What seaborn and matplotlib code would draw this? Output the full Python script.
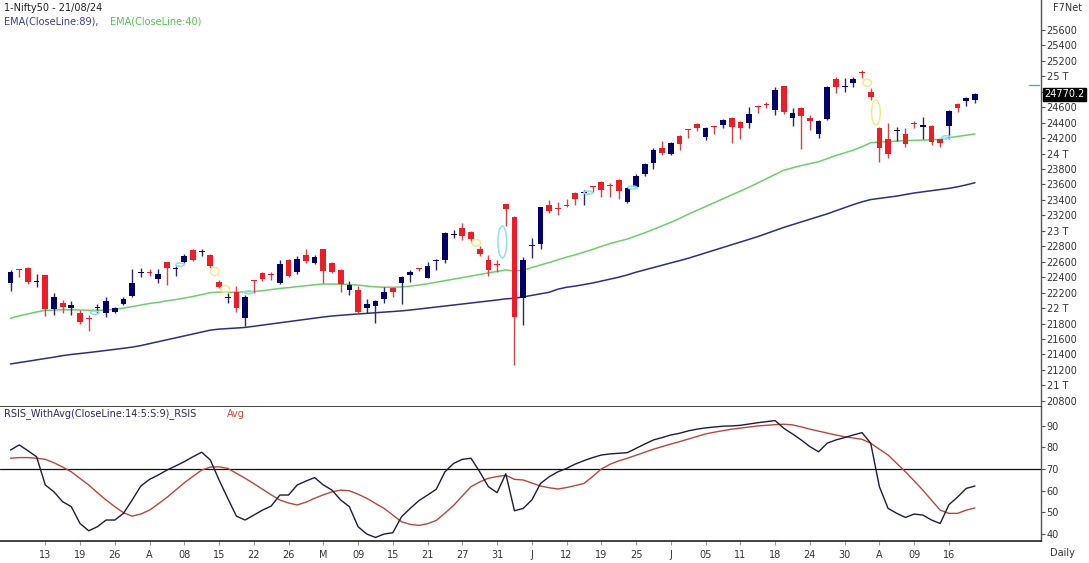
import numpy as np
import pandas as pd
import matplotlib
matplotlib.use("Agg")
import matplotlib.pyplot as plt
from matplotlib.patches import Ellipse
import seaborn as sns

# ---------------- data ----------------
opens = [22329, 22508, 22523, 22340, 22429, 21985, 22062, 21998, 21941, 21868,
         22000, 21941, 21954, 22053, 22157, 22450, 22462, 22377, 22597, 22500,
         22597, 22753, 22725, 22688, 22334, 22128, 22212, 21868, 22355, 22450,
         22432, 22321, 22617, 22471, 22688, 22580, 22762, 22580, 22490, 22234,
         22234, 21998, 22031, 22118, 22256, 22329, 22429, 22510, 22394, 22610,
         22623, 22945, 23033, 22982, 22762, 22623, 22565, 23344, 23183, 22127,
         22800, 22830, 23335, 23290, 23330, 23484, 23490, 23580, 23637, 23590,
         23659, 23378, 23572, 23733, 23883, 24078, 24000, 24229, 24315, 24383,
         24216, 24350, 24370, 24466, 24410, 24400, 24610, 24640, 24565, 24875,
         24465, 24587, 24457, 24248, 24453, 24962, 24860, 24910, 25050, 24801,
         24328, 24186, 24290, 24252, 24395, 24350, 24358, 24186, 24358, 24642,
         24681, 24694]
highs = [22493, 22512, 22530, 22442, 22435, 22196, 22105, 22096, 21976, 21911,
         22053, 22148, 22015, 22148, 22502, 22520, 22506, 22502, 22600, 22546,
         22705, 22762, 22762, 22700, 22364, 22192, 22286, 22170, 22364, 22468,
         22468, 22623, 22632, 22669, 22766, 22688, 22765, 22597, 22510, 22351,
         22286, 22114, 22105, 22269, 22278, 22416, 22493, 22520, 22597, 22640,
         22987, 23010, 23097, 22998, 22805, 22688, 22618, 23350, 23190, 22666,
         22904, 23313, 23400, 23378, 23409, 23506, 23529, 23585, 23645, 23615,
         23665, 23572, 23733, 23883, 24070, 24164, 24155, 24242, 24320, 24400,
         24349, 24355, 24444, 24479, 24423, 24600, 24629, 24672, 24858, 24880,
         24587, 24600, 24500, 24433, 24872, 24996, 24975, 24988, 25082, 24845,
         24349, 24392, 24349, 24328, 24422, 24478, 24366, 24194, 24565, 24659,
         24737, 24781]
lows = [22222, 22407, 22312, 22277, 21898, 21911, 21937, 21911, 21790, 21708,
        21933, 21881, 21943, 22040, 22148, 22403, 22410, 22321, 22304, 22420,
        22584, 22610, 22676, 22515, 22256, 22070, 21954, 21773, 22192, 22350,
        22364, 22308, 22402, 22442, 22584, 22567, 22329, 22448, 22212, 22176,
        21933, 21941, 21803, 22070, 22140, 22049, 22342, 22475, 22386, 22494,
        22584, 22902, 22882, 22839, 22676, 22416, 22463, 23063, 21263, 21781,
        22645, 22770, 23227, 23206, 23305, 23335, 23335, 23507, 23435, 23443,
        23409, 23356, 23559, 23711, 23798, 23979, 23983, 24044, 24207, 24290,
        24173, 24252, 24327, 24142, 24186, 24327, 24530, 24586, 24500, 24513,
        24361, 24057, 24306, 24207, 24431, 24781, 24801, 24866, 24975, 24694,
        23895, 23948, 24164, 24080, 24327, 24186, 24111, 24085, 24186, 24535,
        24616, 24659]
closes = [22471, 22493, 22334, 22345, 21988, 22140, 22018, 22044, 21824, 21855,
          22010, 22096, 21998, 22118, 22321, 22460, 22450, 22442, 22520, 22508,
          22670, 22620, 22735, 22542, 22277, 22140, 21998, 22148, 22345, 22373,
          22424, 22567, 22420, 22636, 22615, 22658, 22484, 22463, 22316, 22299,
          21954, 22053, 22096, 22212, 22212, 22399, 22464, 22500, 22546, 22620,
          22966, 22955, 22937, 22895, 22705, 22494, 22555, 23279, 21889, 22623,
          22821, 23305, 23261, 23280, 23320, 23417, 23500, 23570, 23530, 23580,
          23521, 23551, 23711, 23863, 24044, 24013, 24142, 24129, 24305, 24327,
          24336, 24340, 24435, 24349, 24327, 24513, 24600, 24630, 24823, 24535,
          24530, 24491, 24426, 24420, 24864, 24866, 24870, 24962, 25040, 24729,
          24069, 23992, 24297, 24123, 24385, 24371, 24152, 24143, 24557, 24587,
          24716, 24770.2]
ema89 = [21277, 21295, 21312, 21330, 21348, 21365, 21385, 21400, 21412, 21425,
         21438, 21452, 21466, 21480, 21495, 21515, 21540, 21565, 21590, 21615,
         21640, 21665, 21690, 21715, 21728, 21735, 21742, 21750, 21765, 21780,
         21795, 21810, 21825, 21840, 21855, 21870, 21885, 21898, 21907, 21916,
         21924, 21932, 21940, 21948, 21956, 21964, 21975, 21988, 22001, 22014,
         22027, 22040, 22053, 22066, 22079, 22092, 22105, 22120, 22127, 22145,
         22165, 22185, 22205, 22245, 22270, 22285, 22305, 22325, 22350, 22375,
         22400, 22430, 22465, 22495, 22525, 22555, 22585, 22614, 22645, 22680,
         22715, 22750, 22785, 22820, 22855, 22890, 22925, 22965, 23005, 23045,
         23080, 23115, 23150, 23185, 23220, 23260, 23300, 23340, 23375, 23405,
         23420, 23435, 23450, 23470, 23490, 23505, 23520, 23535, 23550, 23570,
         23595, 23623]
ema40 = [21868, 21900, 21925, 21950, 21970, 21975, 21978, 21978, 21975, 21972,
         21972, 21975, 21985, 22000, 22020, 22040, 22060, 22075, 22095, 22110,
         22130, 22150, 22175, 22200, 22208, 22205, 22205, 22210, 22215, 22225,
         22240, 22255, 22265, 22278, 22290, 22302, 22312, 22312, 22310, 22305,
         22298, 22285, 22275, 22270, 22270, 22275, 22285, 22298, 22315, 22335,
         22355, 22375, 22395, 22415, 22435, 22455, 22475, 22494, 22480, 22490,
         22525, 22558, 22590, 22625, 22660, 22690, 22725, 22760, 22800, 22835,
         22865, 22895, 22935, 22975, 23020, 23065, 23110, 23160, 23215, 23265,
         23315, 23365, 23415, 23465, 23515, 23565, 23620, 23675, 23730, 23785,
         23815, 23845, 23870, 23895, 23935, 23975, 24010, 24045, 24090, 24140,
         24150, 24155, 24162, 24168, 24172, 24175, 24177, 24185, 24205, 24222,
         24238, 24254]
rsi = [78.8, 81.2, 78.5, 75.7, 62.6, 59.4, 54.8, 52.5, 44.7, 41.3,
       43.2, 46.3, 46.3, 49.4, 55.6, 62.1, 65.2, 67.2, 69.5, 71.4,
       73.4, 75.7, 77.8, 74.2, 64.9, 56.4, 48.1, 46.3, 48.6, 50.9,
       52.8, 57.9, 57.9, 62.6, 64.4, 66.0, 62.6, 60.2, 55.6, 52.5,
       43.2, 39.8, 38.2, 39.8, 40.4, 47.8, 51.7, 55.3, 57.9, 60.6,
       68.7, 72.6, 74.5, 75.0, 68.7, 61.8, 59.0, 67.8, 50.6, 51.7,
       55.6, 63.3, 66.4, 68.7, 70.3, 72.3, 73.9, 75.3, 76.5, 77.0,
       77.3, 77.6, 79.6, 81.6, 83.5, 84.6, 85.8, 86.6, 87.7, 88.5,
       89.1, 89.5, 89.9, 90.0, 90.3, 90.9, 91.5, 92.0, 92.5, 88.9,
       86.3, 83.5, 80.4, 78.0, 82.0, 83.5, 84.6, 85.8, 86.9, 82.0,
       61.8, 51.7, 49.4, 47.5, 49.1, 48.6, 46.3, 44.7, 53.4, 57.0,
       61.0, 62.1]
rsi_avg = [75.0, 75.3, 75.3, 75.0, 74.5, 72.9, 70.9, 68.7, 65.6, 62.6,
           59.0, 55.6, 52.5, 49.7, 48.1, 49.1, 50.9, 53.8, 56.8, 60.2,
           63.6, 66.6, 69.5, 70.9, 71.0, 70.3, 68.0, 65.7, 63.2, 60.6,
           58.0, 55.6, 54.2, 53.3, 54.6, 56.4, 58.0, 59.4, 60.2, 59.9,
           58.3, 56.4, 54.0, 51.7, 48.6, 45.5, 44.3, 43.8, 44.6, 46.1,
           49.5, 53.1, 57.5, 61.8, 64.0, 65.7, 66.5, 67.1, 65.2, 64.9,
           63.5, 62.1, 61.3, 60.7, 61.4, 62.3, 63.3, 66.5, 70.0, 72.2,
           73.8, 75.0, 76.4, 77.8, 79.2, 80.4, 81.6, 82.7, 83.9, 85.1,
           86.3, 87.1, 87.8, 88.5, 89.0, 89.5, 90.0, 90.3, 90.6, 90.8,
           90.5, 89.6, 88.5, 87.6, 86.7, 85.8, 85.0, 84.4, 83.8, 82.0,
           79.2, 76.5, 72.6, 68.7, 64.5, 60.2, 55.5, 50.9, 49.4, 49.4,
           50.9, 51.9]
date_labels = ["13", "19", "26", "A", "08", "15", "22", "26", "M", "09", "15",
               "21", "27", "31", "J", "12", "19", "25", "J", "05", "11", "18",
               "24", "30", "A", "09", "16"]
price_ticks = list(range(20800, 25601, 200))
rsi_ticks = [40, 50, 60, 70, 80, 90]
last_price = 24770.2
# pattern markers: (bar, price, height in points, kind)
pattern_bar = [9.7, 19.5, 23.5, 24.7, 27.4, 53.6, 56.6, 66.5, 71.6, 98.6, 99.6, 107.7]
pattern_price = [21941, 22563, 22475, 22248, 22205, 22845, 22856, 23495, 23560, 24918, 24532, 24211]
pattern_height = [40, 40, 110, 90, 40, 90, 414, 40, 40, 90, 324, 40]
pattern_kind = ["c", "c", "y", "y", "c", "y", "c", "c", "c", "y", "y", "c"]

# ---------------- style ----------------
sns.set_theme(style="white")
plt.rcParams['font.family'] = ['DejaVu Sans']

W, H = 1089, 563
fig = plt.figure(figsize=(W / 100, H / 100), dpi=100)
fig.patch.set_facecolor("white")

ax_right_px = 1041
ax_p = fig.add_axes([0, (H - 407) / H, ax_right_px / W, 407 / H])
ax_r = fig.add_axes([0, (H - 540.7) / H, ax_right_px / W, (540.7 - 407) / H], sharex=ax_p)

n = len(closes)
bars = np.arange(n)
df = pd.DataFrame({"bar": bars, "open": opens, "high": highs, "low": lows,
                   "close": closes, "ema89": ema89, "ema40": ema40,
                   "rsi": rsi, "avg": rsi_avg})

BLUE = "#000066"
RED = "#ee1c24"
up = df["close"] >= df["open"]
wick_col = np.where(up, "#2a2a5a", "#d24545")
body_col = np.where(up, BLUE, RED)

# EMA lines
sns.lineplot(data=df, x="bar", y="ema89", ax=ax_p, color="#2e2e7e", lw=1.1, zorder=2)
sns.lineplot(data=df, x="bar", y="ema40", ax=ax_p, color="#6ccf6c", lw=1.1, zorder=2)

# candles
ax_p.vlines(df["bar"], df["low"], df["high"], colors=wick_col, lw=1.0, zorder=3)
body_bottom = np.minimum(df["open"], df["close"])
body_h = np.maximum((df["close"] - df["open"]).abs(), 16)
ax_p.bar(df["bar"], body_h, bottom=body_bottom, width=0.66, color=body_col,
         linewidth=0, zorder=4)

# pattern markers
for b, p, h, k in zip(pattern_bar, pattern_price, pattern_height, pattern_kind):
    col = "#8fe0ea" if k == "c" else "#f2eb8a"
    ax_p.add_patch(Ellipse((b, p), 1.0, h, fill=False, edgecolor=col, lw=1.1, zorder=5))

ax_p.set_xlim(-1.21, 118.6)
ax_p.set_ylim(20720, 25988)
ax_p.set_xlabel("")
ax_p.set_ylabel("")

# RSI
sns.lineplot(data=df, x="bar", y="avg", ax=ax_r, color="#b9463f", lw=1.0, zorder=2)
sns.lineplot(data=df, x="bar", y="rsi", ax=ax_r, color="#1c1c3a", lw=1.0, zorder=3)
ax_r.axhline(70, color="#111111", lw=0.9, zorder=1)
ax_r.set_ylim(36.7, 98.8)
ax_r.set_xlabel("")
ax_r.set_ylabel("")

GRAY = "#555555"
TXT = "#333333"
FS = 7
for a in (ax_p, ax_r):
    for s in ("top", "left"):
        a.spines[s].set_visible(False)
    a.spines["right"].set_color(GRAY)
    a.spines["right"].set_linewidth(1.0)
    a.spines["bottom"].set_color("#222222")
    a.spines["bottom"].set_linewidth(1.2)
    a.yaxis.tick_right()
    a.tick_params(axis="y", which="both", right=True, left=False, length=3,
                  width=0.8, color=GRAY, labelcolor=TXT, labelsize=FS, pad=1)
    a.grid(False)
    a.set_facecolor("white")


def price_label(v):
    if abs(v - last_price) < 100:
        return ""  # hidden behind the last-price box
    return f"{v // 1000} T" if v % 1000 == 0 else str(v)


ax_p.set_yticks(price_ticks)
ax_p.set_yticklabels([price_label(v) for v in price_ticks])
ax_p.tick_params(axis="x", bottom=False, labelbottom=False)

ax_r.set_yticks(rsi_ticks)
ax_r.set_yticklabels([str(v) for v in rsi_ticks])
tick_pos = [4 + 4 * k for k in range(len(date_labels))]
ax_r.set_xticks(tick_pos)
ax_r.set_xticklabels(date_labels)
ax_r.tick_params(axis="x", bottom=True, length=3, width=0.8, color="#999999",
                 labelcolor=TXT, labelsize=FS, pad=4)

# last price box
ax_p.text(1.003, last_price, f"{last_price:.1f}", transform=ax_p.get_yaxis_transform(),
          ha="left", va="center", color="white", fontsize=FS, clip_on=False,
          bbox=dict(boxstyle="square,pad=0.15", fc="black", ec="black"))
ax_p.plot([0.988, 0.998], [24888, 24888], transform=ax_p.get_yaxis_transform(),
          color="#5fa8b8", lw=1.0, clip_on=False)

# header texts
def fx(px):
    return px / W


def fy(py):
    return 1 - py / H


fig.text(fx(4), fy(8), "1-Nifty50 - 21/08/24", fontsize=FS, color="#222222", va="center")
fig.text(fx(4), fy(22), "EMA(CloseLine:89),", fontsize=FS, color="#3a3a9a", va="center")
fig.text(fx(110), fy(22), "EMA(CloseLine:40)", fontsize=FS, color="#55c455", va="center")
fig.text(fx(4), fy(414), "RSIS_WithAvg(CloseLine:14:5:S:9)_RSIS", fontsize=FS,
         color="#2a2a5a", va="center")
fig.text(fx(227), fy(414), "Avg", fontsize=FS, color="#d04a40", va="center")
fig.text(fx(1068), fy(8), "F7Net", fontsize=FS, color="#333333", va="center", ha="center")
fig.text(fx(1062), fy(553), "Daily", fontsize=FS, color="#333333", va="center", ha="center")

fig.savefig("out.png", dpi=100, facecolor="white")
